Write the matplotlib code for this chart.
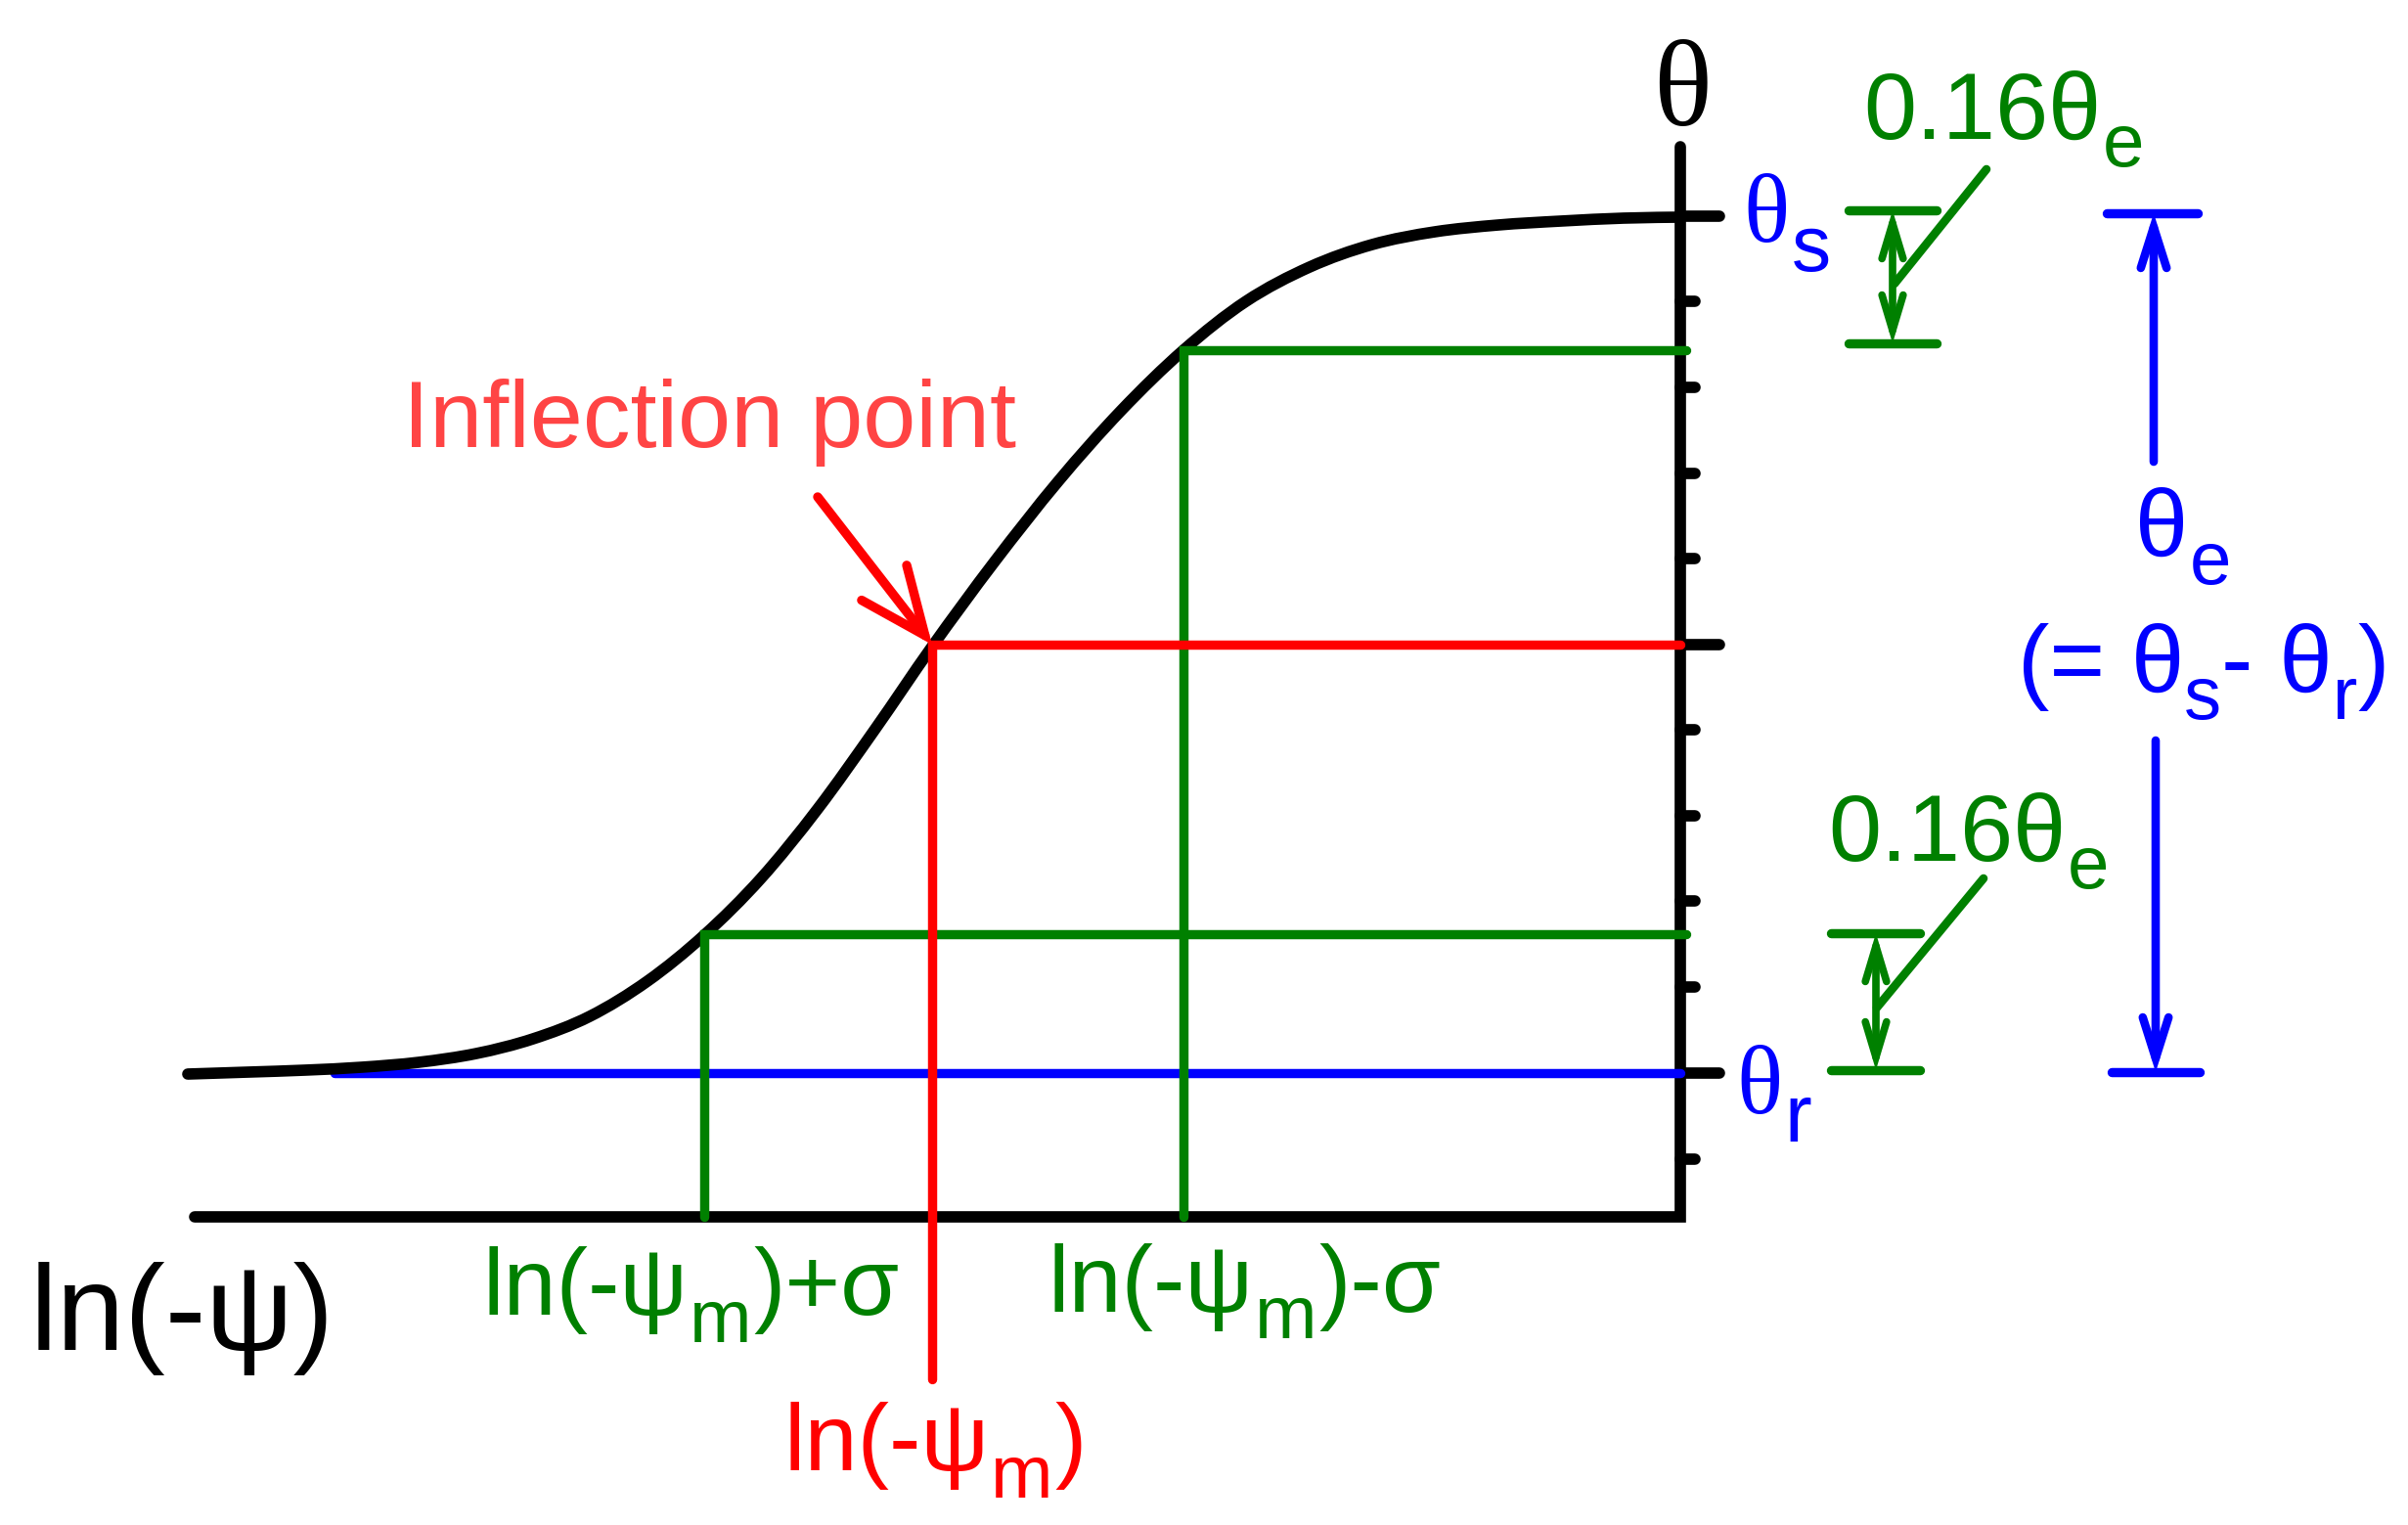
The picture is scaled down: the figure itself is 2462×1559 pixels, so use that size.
import matplotlib
matplotlib.use("Agg")
import matplotlib.pyplot as plt
from matplotlib.patches import FancyArrowPatch, PathPatch
from matplotlib.path import Path

# everything is in the pixel units of the original drawing (y grows downward)
curve_x = [192, 254, 312, 370, 428, 487, 545, 603, 662, 720, 778, 836, 895, 953,
           1017, 1082, 1146, 1210, 1274, 1339, 1403, 1467, 1532, 1596, 1660, 1718]
curve_y = [1098, 1096, 1094, 1091, 1086, 1077, 1062, 1039, 1003, 956, 898, 827, 745, 661,
           574, 492, 420, 358, 308, 273, 250, 237, 230, 226, 223, 222]

theta_s = 221      # saturated water content level
theta_r = 1097     # residual water content level
theta_m = 659      # level at the inflection point
theta_hi = 358     # theta_s - 0.16 theta_e
theta_lo = 955     # theta_r + 0.16 theta_e

x_m = 953          # ln(-psi_m)
x_plus = 720       # ln(-psi_m) + sigma
x_minus = 1210     # ln(-psi_m) - sigma
x_axis = 1718
y_axis = 1244
x_left = 199
y_top = 150

major_ticks = [theta_s, theta_m, theta_r]
minor_ticks = [308, 396, 484, 571, 746, 834, 921, 1009, 1185]

RED = "#ff0000"
LRED = "#ff4444"
GREEN = "#008000"
BLUE = "#0000ff"
SANS = "Liberation Sans"
SERIF = "Liberation Serif"

LW_BLACK = 8.4
LW_COL = 6.8

fig = plt.figure(figsize=(24.62, 15.59), dpi=100)
ax = fig.add_axes([0, 0, 1, 1])
ax.set_xlim(0, 2462)
ax.set_ylim(1559, 0)
ax.axis("off")


def seg(xs, ys, color, lw, z=2):
    ax.plot(xs, ys, color=color, lw=lw, solid_capstyle="round",
            solid_joinstyle="miter", zorder=z)


def smooth_curve(xs, ys, color, lw, z=3):
    # cubic bezier pieces through the read points (catmull-rom tangents)
    pts = list(zip(xs, ys))
    verts = [pts[0]]
    codes = [Path.MOVETO]
    n = len(pts)
    for i in range(n - 1):
        p0 = pts[max(i - 1, 0)]
        p1 = pts[i]
        p2 = pts[i + 1]
        p3 = pts[min(i + 2, n - 1)]
        c1 = (p1[0] + (p2[0] - p0[0]) / 6, p1[1] + (p2[1] - p0[1]) / 6)
        c2 = (p2[0] - (p3[0] - p1[0]) / 6, p2[1] - (p3[1] - p1[1]) / 6)
        verts += [c1, c2, p2]
        codes += [Path.CURVE4] * 3
    patch = PathPatch(Path(verts, codes), fill=False, edgecolor=color, lw=lw,
                      capstyle="round", joinstyle="round", zorder=z)
    ax.add_patch(patch)


def arrow(p0, p1, color, style, lw, z=3):
    a = FancyArrowPatch(p0, p1, arrowstyle=style, mutation_scale=10, lw=lw,
                        color=color, shrinkA=0, shrinkB=0, capstyle="round",
                        joinstyle="miter", zorder=z)
    ax.add_patch(a)


def chain(x, pieces, color, gap=1.5):
    # pieces: (text, baseline, fontsize, family) laid out one after another
    prev = None
    for s, y, size, fam in pieces:
        if prev is None:
            prev = ax.text(x, y, s, fontsize=size, color=color, family=fam,
                           ha="left", va="baseline", zorder=6)
        else:
            prev = ax.annotate(s, xy=(1, y), xycoords=(prev, "data"),
                               xytext=(gap, 0), textcoords="offset points",
                               fontsize=size, color=color, family=fam,
                               ha="left", va="baseline", zorder=6)
    return prev


# axes
seg([x_left, x_axis, x_axis], [y_axis, y_axis, y_top], "black", LW_BLACK, z=1)
for y in major_ticks:
    seg([x_axis, x_axis + 40], [y, y], "black", LW_BLACK, z=1)
for y in minor_ticks:
    seg([x_axis, x_axis + 15], [y, y], "black", LW_BLACK, z=1)

# residual level and the curve
seg([342, x_axis], [theta_r, theta_r], BLUE, LW_COL, z=2)
smooth_curve(curve_x, curve_y, "black", LW_BLACK, z=3)

# +/- sigma guides
seg([x_plus, x_plus, x_axis + 6], [y_axis, theta_lo, theta_lo], GREEN, LW_COL, z=4)
seg([x_minus, x_minus, x_axis + 6], [y_axis, theta_hi, theta_hi], GREEN, LW_COL, z=4)

# inflection guides
seg([x_m, x_m, x_axis], [1410, theta_m, theta_m], RED, LW_COL, z=5)
arrow((836, 508), (x_m, theta_m), RED, "->,head_length=4.9,head_width=2.1", LW_COL, z=5)

# green 0.16 theta_e brackets
seg([1890, 1980], [215, 215], GREEN, LW_COL)
seg([1890, 1980], [351, 351], GREEN, LW_COL)
arrow((1935, 215), (1935, 351), GREEN, "<->,head_length=2.6,head_width=0.78", 5.5)
seg([2031, 1937], [173, 290], GREEN, 6.2)

seg([1872, 1963], [954, 954], GREEN, LW_COL)
seg([1872, 1963], [1094, 1094], GREEN, LW_COL)
arrow((1918, 954), (1918, 1094), GREEN, "<->,head_length=2.6,head_width=0.78", 5.5)
seg([2028, 1919], [898, 1030], GREEN, 6.2)

# blue theta_e bracket
seg([2154, 2247], [218, 218], BLUE, LW_COL)
seg([2159, 2249], [1096, 1096], BLUE, LW_COL)
arrow((2202, 472), (2202, 218), BLUE, "->,head_length=3.0,head_width=0.95", 6.2)
arrow((2204, 757), (2204, 1096), BLUE, "->,head_length=3.0,head_width=0.95", 6.2)

# labels
ax.text(1720, 128, "θ", fontsize=90, family=SERIF, ha="center", va="baseline")
chain(1782, [("θ", 247, 71, SERIF), ("s", 277, 58, SANS)], BLUE)
chain(1775, [("θ", 1138, 71, SERIF), ("r", 1167, 60, SANS)], BLUE)

ax.text(412, 457, "Inflection point", fontsize=70, family=SANS, color=LRED,
        ha="left", va="baseline")

chain(1905, [("0.16θ", 142, 70, SANS), ("e", 170, 55, SANS)], GREEN)
chain(1869, [("0.16θ", 880, 70, SANS), ("e", 908, 55, SANS)], GREEN)

chain(2183, [("θ", 568, 70, SANS), ("e", 597, 55, SANS)], BLUE)
chain(2063, [("(= θ", 707, 70, SANS), ("s", 735, 55, SANS), ("- θ", 707, 70, SANS),
             ("r", 735, 55, SANS), (")", 707, 70, SANS)], BLUE, gap=0)

ax.text(31, 1380, "ln(-ψ)", fontsize=90, family=SANS, ha="left", va="baseline")
chain(493, [("ln(-ψ", 1344, 70, SANS), ("m", 1372, 55, SANS), (")+σ", 1344, 70, SANS)], GREEN)
chain(1071, [("ln(-ψ", 1341, 70, SANS), ("m", 1368, 55, SANS), (")-σ", 1341, 70, SANS)], GREEN)
chain(801, [("ln(-ψ", 1503, 70, SANS), ("m", 1531, 55, SANS), (")", 1503, 70, SANS)], RED)

fig.savefig("out.png", dpi=100, facecolor="white")
